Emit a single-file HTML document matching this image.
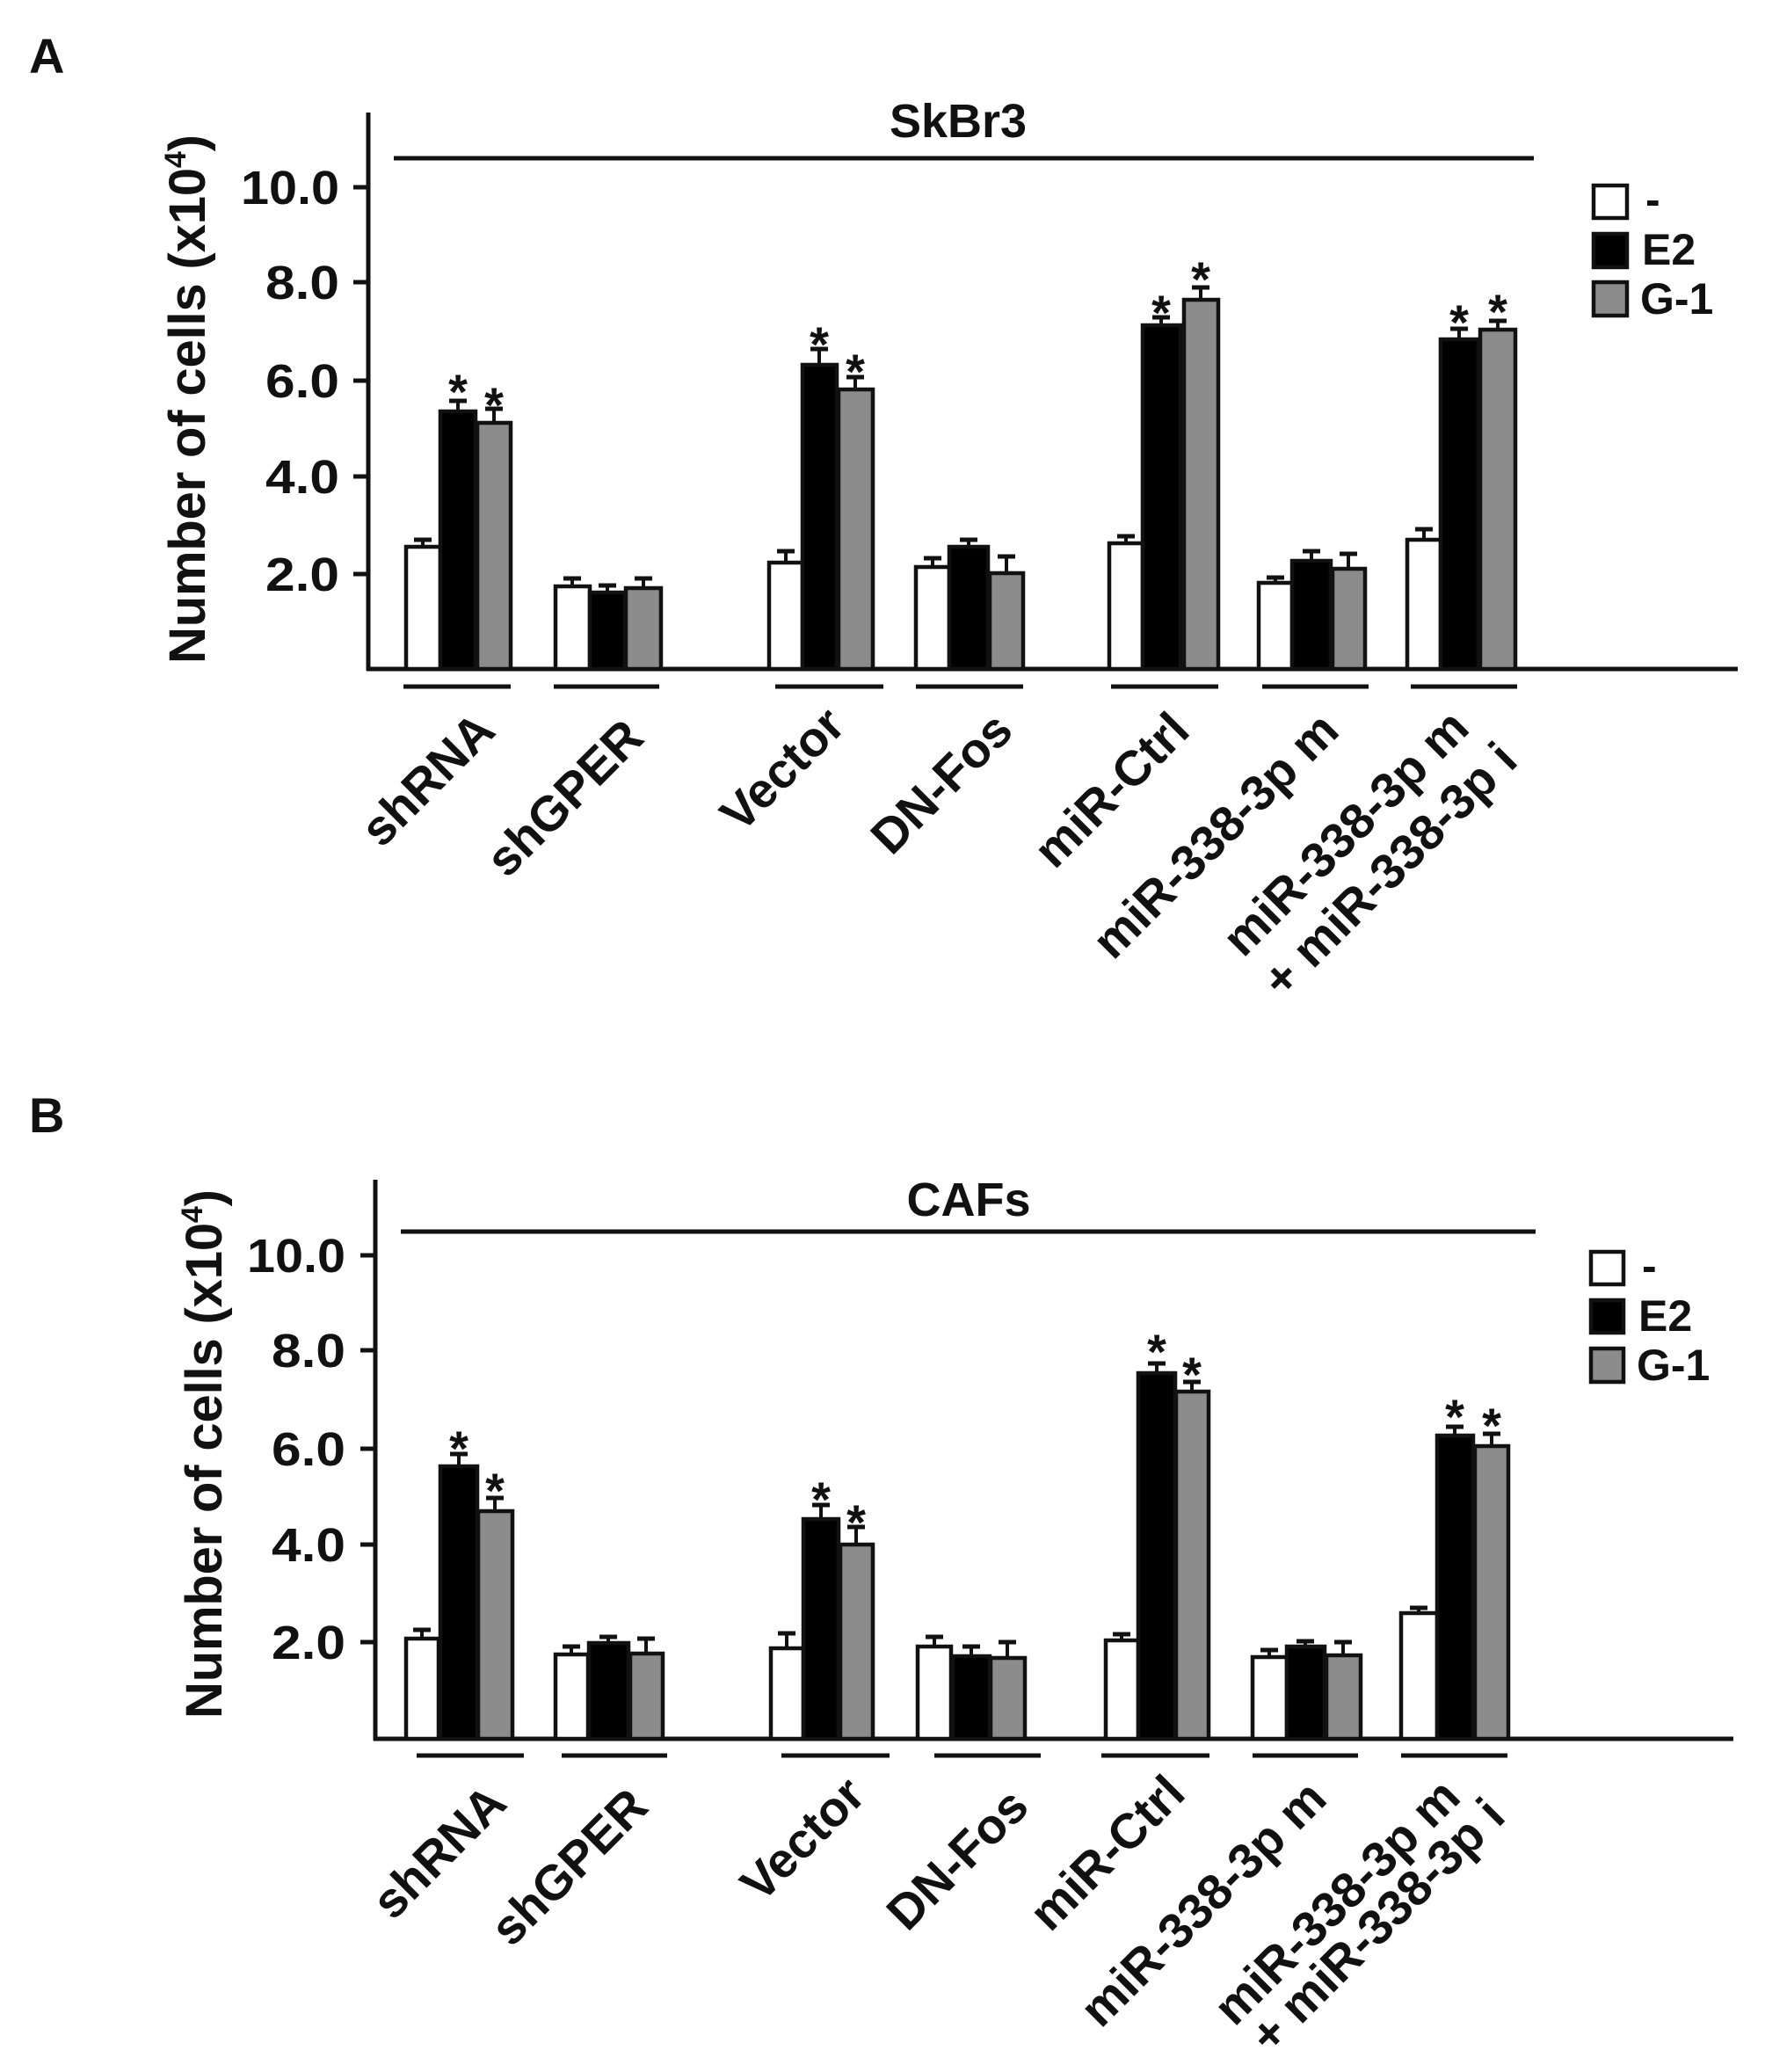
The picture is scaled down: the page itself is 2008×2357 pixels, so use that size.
<!DOCTYPE html>
<html><head><meta charset="utf-8"><style>
html,body{margin:0;padding:0;background:#fff;}
svg{display:block;}
text{font-family:"Liberation Sans",sans-serif;font-weight:bold;fill:#111;}
.bw{fill:#fff;stroke:#111;stroke-width:4.5;}
.bk{fill:#000;stroke:#111;stroke-width:4.5;}
.bg{fill:#8c8c8c;stroke:#111;stroke-width:4.5;}
.ax{stroke:#111;stroke-width:5;fill:none;}
.eb{stroke:#111;stroke-width:4;}
.cap{stroke:#111;stroke-width:5;}
.tk{font-size:54px;text-anchor:end;}
.lab{font-size:56px;text-anchor:end;}
.st{font-size:56px;text-anchor:middle;}
</style></head><body>
<svg width="2008" height="2357" viewBox="0 0 2008 2357" xmlns="http://www.w3.org/2000/svg">
<!-- ================= PANEL A ================= -->
<text x="33" y="83" style="font-size:56px">A</text>
<line class="ax" x1="419" y1="128" x2="419" y2="763"/>
<line class="ax" x1="417" y1="761" x2="1977" y2="761"/>
<g class="ax"><line x1="402" y1="213" x2="419" y2="213"/><line x1="402" y1="321" x2="419" y2="321"/><line x1="402" y1="433" x2="419" y2="433"/><line x1="402" y1="542" x2="419" y2="542"/><line x1="402" y1="653" x2="419" y2="653"/></g>
<text class="tk" x="386" y="232" textLength="112" lengthAdjust="spacingAndGlyphs">10.0</text>
<text class="tk" x="386" y="340" textLength="84" lengthAdjust="spacingAndGlyphs">8.0</text>
<text class="tk" x="386" y="452" textLength="84" lengthAdjust="spacingAndGlyphs">6.0</text>
<text class="tk" x="386" y="561" textLength="84" lengthAdjust="spacingAndGlyphs">4.0</text>
<text class="tk" x="386" y="672" textLength="84" lengthAdjust="spacingAndGlyphs">2.0</text>
<text transform="translate(233,755) rotate(-90)" style="font-size:58px" textLength="602">Number of cells (x10<tspan dy="-22" style="font-size:34px">4</tspan><tspan dy="22">)</tspan></text>
<line x1="448" y1="180" x2="1745" y2="180" stroke="#111" stroke-width="5"/>
<text x="1090" y="156" style="font-size:54px;text-anchor:middle">SkBr3</text>
<!-- legend A -->
<rect class="bw" x="1813" y="211" width="38" height="37"/>
<rect class="bk" x="1813" y="266" width="38" height="38"/>
<rect class="bg" x="1813" y="321" width="38" height="38"/>
<text x="1872" y="244" style="font-size:50px">-</text>
<text x="1868" y="301" style="font-size:50px">E2</text>
<text x="1866" y="357" style="font-size:50px">G-1</text>
<!-- bars A -->
<g>
<rect class="bw" x="462" y="622" width="39" height="139"/><rect class="bk" x="501" y="468" width="40" height="293"/><rect class="bg" x="543" y="481" width="38" height="280"/>
<rect class="bw" x="632" y="667" width="39" height="94"/><rect class="bk" x="671" y="674" width="40" height="87"/><rect class="bg" x="712" y="669" width="40" height="92"/>
<rect class="bw" x="875" y="640" width="38" height="121"/><rect class="bk" x="913" y="415" width="39" height="346"/><rect class="bg" x="954" y="443" width="39" height="318"/>
<rect class="bw" x="1042" y="645" width="38" height="116"/><rect class="bk" x="1080" y="622" width="44" height="139"/><rect class="bg" x="1126" y="652" width="38" height="109"/>
<rect class="bw" x="1262" y="618" width="38" height="143"/><rect class="bk" x="1300" y="370" width="43" height="391"/><rect class="bg" x="1347" y="341" width="39" height="420"/>
<rect class="bw" x="1432" y="663" width="38" height="98"/><rect class="bk" x="1470" y="638" width="44" height="123"/><rect class="bg" x="1516" y="647" width="37" height="114"/>
<rect class="bw" x="1601" y="614" width="38" height="147"/><rect class="bk" x="1639" y="386" width="43" height="375"/><rect class="bg" x="1684" y="375" width="40" height="386"/>
</g>
<g class="eb">
<line x1="481" y1="622" x2="481" y2="614"/><line x1="521" y1="468" x2="521" y2="456"/><line x1="562" y1="481" x2="562" y2="465"/>
<line x1="651" y1="667" x2="651" y2="658"/><line x1="691" y1="674" x2="691" y2="666"/><line x1="732" y1="669" x2="732" y2="658"/>
<line x1="894" y1="640" x2="894" y2="627"/><line x1="932" y1="415" x2="932" y2="397"/><line x1="973" y1="443" x2="973" y2="429"/>
<line x1="1061" y1="645" x2="1061" y2="635"/><line x1="1102" y1="622" x2="1102" y2="614"/><line x1="1145" y1="652" x2="1145" y2="633"/>
<line x1="1281" y1="618" x2="1281" y2="610"/><line x1="1321" y1="370" x2="1321" y2="361"/><line x1="1366" y1="341" x2="1366" y2="327"/>
<line x1="1451" y1="663" x2="1451" y2="657"/><line x1="1492" y1="638" x2="1492" y2="627"/><line x1="1534" y1="647" x2="1534" y2="630"/>
<line x1="1620" y1="614" x2="1620" y2="602"/><line x1="1660" y1="386" x2="1660" y2="374"/><line x1="1704" y1="375" x2="1704" y2="365"/>
</g>
<g class="cap">
<line x1="471" y1="614" x2="491" y2="614"/><line x1="511" y1="456" x2="531" y2="456"/><line x1="552" y1="465" x2="572" y2="465"/>
<line x1="641" y1="658" x2="661" y2="658"/><line x1="681" y1="666" x2="701" y2="666"/><line x1="722" y1="658" x2="742" y2="658"/>
<line x1="884" y1="627" x2="904" y2="627"/><line x1="922" y1="397" x2="942" y2="397"/><line x1="963" y1="429" x2="983" y2="429"/>
<line x1="1051" y1="635" x2="1071" y2="635"/><line x1="1092" y1="614" x2="1112" y2="614"/><line x1="1135" y1="633" x2="1155" y2="633"/>
<line x1="1271" y1="610" x2="1291" y2="610"/><line x1="1311" y1="361" x2="1331" y2="361"/><line x1="1356" y1="327" x2="1376" y2="327"/>
<line x1="1441" y1="657" x2="1461" y2="657"/><line x1="1482" y1="627" x2="1502" y2="627"/><line x1="1524" y1="630" x2="1544" y2="630"/>
<line x1="1610" y1="602" x2="1630" y2="602"/><line x1="1650" y1="374" x2="1670" y2="374"/><line x1="1694" y1="365" x2="1714" y2="365"/>
</g>
<g>
<text class="st" x="521" y="465">*</text><text class="st" x="562" y="480">*</text>
<text class="st" x="932" y="411">*</text><text class="st" x="973" y="442">*</text>
<text class="st" x="1321" y="375">*</text><text class="st" x="1366" y="337">*</text>
<text class="st" x="1660" y="386">*</text><text class="st" x="1704" y="374">*</text>
</g>
<g stroke="#111" stroke-width="5">
<line x1="459" y1="781" x2="581" y2="781"/><line x1="630" y1="781" x2="750" y2="781"/><line x1="882" y1="781" x2="1005" y2="781"/><line x1="1042" y1="781" x2="1164" y2="781"/><line x1="1264" y1="781" x2="1386" y2="781"/><line x1="1436" y1="781" x2="1557" y2="781"/><line x1="1605" y1="781" x2="1726" y2="781"/>
</g>
<text class="lab" transform="translate(566,834) rotate(-45)">shRNA</text>
<text class="lab" transform="translate(735,842) rotate(-45)">shGPER</text>
<text class="lab" transform="translate(964,828) rotate(-45)">Vector</text>
<text class="lab" transform="translate(1155,834) rotate(-45)">DN-Fos</text>
<text class="lab" transform="translate(1356,834) rotate(-45)">miR-Ctrl</text>
<text class="lab" transform="translate(1526,834) rotate(-45)">miR-338-3p m</text>
<text class="lab" transform="translate(1674,831) rotate(-45)">miR-338-3p m</text>
<text class="lab" transform="translate(1729,868) rotate(-45)">+ miR-338-3p i</text>

<!-- ================= PANEL B ================= -->
<text x="33" y="1288" style="font-size:56px">B</text>
<line class="ax" x1="427" y1="1342" x2="427" y2="1980"/>
<line class="ax" x1="425" y1="1978" x2="1972" y2="1978"/>
<g class="ax"><line x1="410" y1="1428" x2="427" y2="1428"/><line x1="410" y1="1536" x2="427" y2="1536"/><line x1="410" y1="1648" x2="427" y2="1648"/><line x1="410" y1="1757" x2="427" y2="1757"/><line x1="410" y1="1868" x2="427" y2="1868"/></g>
<text class="tk" x="393" y="1447" textLength="112" lengthAdjust="spacingAndGlyphs">10.0</text>
<text class="tk" x="393" y="1555" textLength="84" lengthAdjust="spacingAndGlyphs">8.0</text>
<text class="tk" x="393" y="1667" textLength="84" lengthAdjust="spacingAndGlyphs">6.0</text>
<text class="tk" x="393" y="1776" textLength="84" lengthAdjust="spacingAndGlyphs">4.0</text>
<text class="tk" x="393" y="1887" textLength="84" lengthAdjust="spacingAndGlyphs">2.0</text>
<text transform="translate(252,1955) rotate(-90)" style="font-size:58px" textLength="602">Number of cells (x10<tspan dy="-22" style="font-size:34px">4</tspan><tspan dy="22">)</tspan></text>
<line x1="456" y1="1401" x2="1747" y2="1401" stroke="#111" stroke-width="5"/>
<text x="1102" y="1383" style="font-size:54px;text-anchor:middle">CAFs</text>
<!-- legend B -->
<rect class="bw" x="1810" y="1424" width="37" height="37"/>
<rect class="bk" x="1810" y="1479" width="37" height="37"/>
<rect class="bg" x="1810" y="1534" width="37" height="38"/>
<text x="1868" y="1457" style="font-size:50px">-</text>
<text x="1864" y="1514" style="font-size:50px">E2</text>
<text x="1862" y="1570" style="font-size:50px">G-1</text>
<g>
<rect class="bw" x="462" y="1864" width="37" height="114"/><rect class="bk" x="501" y="1668" width="42" height="310"/><rect class="bg" x="544" y="1719" width="39" height="259"/>
<rect class="bw" x="632" y="1882" width="37" height="96"/><rect class="bk" x="670" y="1869" width="45" height="109"/><rect class="bg" x="717" y="1881" width="37" height="97"/>
<rect class="bw" x="877" y="1875" width="37" height="103"/><rect class="bk" x="914" y="1728" width="40" height="250"/><rect class="bg" x="956" y="1757" width="37" height="221"/>
<rect class="bw" x="1044" y="1873" width="38" height="105"/><rect class="bk" x="1084" y="1884" width="42" height="94"/><rect class="bg" x="1127" y="1886" width="39" height="92"/>
<rect class="bw" x="1258" y="1866" width="37" height="112"/><rect class="bk" x="1295" y="1562" width="42" height="416"/><rect class="bg" x="1338" y="1583" width="37" height="395"/>
<rect class="bw" x="1425" y="1885" width="39" height="93"/><rect class="bk" x="1464" y="1873" width="43" height="105"/><rect class="bg" x="1509" y="1883" width="39" height="95"/>
<rect class="bw" x="1594" y="1835" width="41" height="143"/><rect class="bk" x="1635" y="1633" width="41" height="345"/><rect class="bg" x="1678" y="1645" width="38" height="333"/>
</g>
<g class="eb">
<line x1="480" y1="1864" x2="480" y2="1854"/><line x1="522" y1="1668" x2="522" y2="1654"/><line x1="563" y1="1719" x2="563" y2="1704"/>
<line x1="650" y1="1882" x2="650" y2="1873"/><line x1="692" y1="1869" x2="692" y2="1862"/><line x1="735" y1="1881" x2="735" y2="1864"/>
<line x1="895" y1="1875" x2="895" y2="1858"/><line x1="934" y1="1728" x2="934" y2="1712"/><line x1="974" y1="1757" x2="974" y2="1737"/>
<line x1="1063" y1="1873" x2="1063" y2="1862"/><line x1="1105" y1="1884" x2="1105" y2="1873"/><line x1="1146" y1="1886" x2="1146" y2="1868"/>
<line x1="1276" y1="1866" x2="1276" y2="1859"/><line x1="1316" y1="1562" x2="1316" y2="1551"/><line x1="1356" y1="1583" x2="1356" y2="1572"/>
<line x1="1444" y1="1885" x2="1444" y2="1877"/><line x1="1485" y1="1873" x2="1485" y2="1867"/><line x1="1528" y1="1883" x2="1528" y2="1868"/>
<line x1="1614" y1="1835" x2="1614" y2="1829"/><line x1="1655" y1="1633" x2="1655" y2="1623"/><line x1="1697" y1="1645" x2="1697" y2="1631"/>
</g>
<g class="cap">
<line x1="470" y1="1854" x2="490" y2="1854"/><line x1="512" y1="1654" x2="532" y2="1654"/><line x1="553" y1="1704" x2="573" y2="1704"/>
<line x1="640" y1="1873" x2="660" y2="1873"/><line x1="682" y1="1862" x2="702" y2="1862"/><line x1="725" y1="1864" x2="745" y2="1864"/>
<line x1="885" y1="1858" x2="905" y2="1858"/><line x1="924" y1="1712" x2="944" y2="1712"/><line x1="964" y1="1737" x2="984" y2="1737"/>
<line x1="1053" y1="1862" x2="1073" y2="1862"/><line x1="1095" y1="1873" x2="1115" y2="1873"/><line x1="1136" y1="1868" x2="1156" y2="1868"/>
<line x1="1266" y1="1859" x2="1286" y2="1859"/><line x1="1306" y1="1551" x2="1326" y2="1551"/><line x1="1346" y1="1572" x2="1366" y2="1572"/>
<line x1="1434" y1="1877" x2="1454" y2="1877"/><line x1="1475" y1="1867" x2="1495" y2="1867"/><line x1="1518" y1="1868" x2="1538" y2="1868"/>
<line x1="1604" y1="1829" x2="1624" y2="1829"/><line x1="1645" y1="1623" x2="1665" y2="1623"/><line x1="1687" y1="1631" x2="1707" y2="1631"/>
</g>
<g>
<text class="st" x="522" y="1667">*</text><text class="st" x="563" y="1715">*</text>
<text class="st" x="934" y="1725">*</text><text class="st" x="974" y="1751">*</text>
<text class="st" x="1316" y="1557">*</text><text class="st" x="1356" y="1583">*</text>
<text class="st" x="1655" y="1631">*</text><text class="st" x="1697" y="1641">*</text>
</g>
<g stroke="#111" stroke-width="5">
<line x1="474" y1="1997" x2="596" y2="1997"/><line x1="639" y1="1997" x2="759" y2="1997"/><line x1="889" y1="1997" x2="1012" y2="1997"/><line x1="1063" y1="1997" x2="1184" y2="1997"/><line x1="1253" y1="1997" x2="1376" y2="1997"/><line x1="1425" y1="1997" x2="1545" y2="1997"/><line x1="1594" y1="1997" x2="1715" y2="1997"/>
</g>
<text class="lab" transform="translate(579,2054) rotate(-45)">shRNA</text>
<text class="lab" transform="translate(740,2058) rotate(-45)">shGPER</text>
<text class="lab" transform="translate(987,2045) rotate(-45)">Vector</text>
<text class="lab" transform="translate(1173,2058) rotate(-45)">DN-Fos</text>
<text class="lab" transform="translate(1351,2043) rotate(-45)">miR-Ctrl</text>
<text class="lab" transform="translate(1512,2049) rotate(-45)">miR-338-3p m</text>
<text class="lab" transform="translate(1664,2047) rotate(-45)">miR-338-3p m</text>
<text class="lab" transform="translate(1715,2069) rotate(-45)">+ miR-338-3p i</text>
</svg>
</body></html>
